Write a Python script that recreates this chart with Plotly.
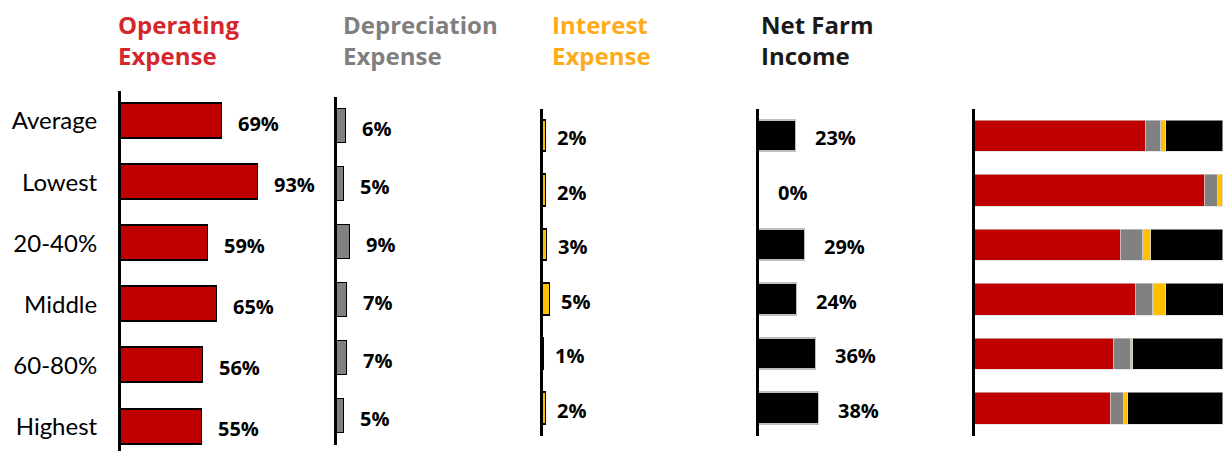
import plotly.graph_objects as go

# Share of gross farm income, by farm group
groups = ["Average", "Lowest", "20-40%", "Middle", "60-80%", "Highest"]
operating = [69, 93, 59, 65, 56, 55]
depreciation = [6, 5, 9, 7, 7, 5]
interest = [2, 2, 3, 5, 1, 2]
net_income = [23, 0, 29, 24, 36, 38]

W, H = 1223, 451

RED = "#C00000"
GREY = "#808080"
GOLD = "#FFC000"
BLACK = "#000000"


def fx(p):
    return p / W


def fy(p):
    return 1 - p / H


# Panel geometry (pixel based) and styling
panels = [
    dict(values=operating, title="Operating<br>Expense", tcolor="#D4262D", color=RED,
         outline=BLACK, x0=121, x1=330, scale=1.47, y0=90.5, y1=451, ybottom=5.4,
         bw=0.573, gap=14, tx=116),
    dict(values=depreciation, title="Depreciation<br>Expense", tcolor="#7F7F7F", color=GREY,
         outline=BLACK, x0=337, x1=535, scale=1.42, y0=97, y1=445, ybottom=5.5,
         bw=0.57, gap=14, tx=341),
    dict(values=interest, title="Interest<br>Expense", tcolor="#FFAB19", color=GOLD,
         outline=BLACK, x0=543, x1=750, scale=1.4, y0=108.5, y1=435.5, ybottom=5.5,
         bw=0.578, gap=9, tx=550),
    dict(values=net_income, title="Net Farm<br>Income", tcolor="#1A1A1A", color=BLACK,
         outline="#BFBFBF", x0=759, x1=965, scale=1.59, y0=108.5, y1=435.5, ybottom=5.5,
         bw=0.578, gap=17, tx=759),
]

fig = go.Figure()
annotations = []
layout = {}

for i, p in enumerate(panels, start=1):
    xa = "x" if i == 1 else f"x{i}"
    ya = "y" if i == 1 else f"y{i}"
    fig.add_trace(go.Bar(
        x=p["values"], y=groups, orientation="h", xaxis=xa, yaxis=ya,
        width=p["bw"], marker=dict(color=p["color"], line=dict(color=p["outline"], width=1.2)),
        showlegend=False, hoverinfo="x+y",
    ))
    layout[f"xaxis{i}" if i > 1 else "xaxis"] = dict(
        domain=[fx(p["x0"]), fx(p["x1"])],
        range=[0, (p["x1"] - p["x0"]) / p["scale"]],
        anchor=ya, visible=False, fixedrange=True,
    )
    layout[f"yaxis{i}" if i > 1 else "yaxis"] = dict(
        domain=[fy(p["y1"]), fy(p["y0"])],
        type="category", categoryorder="array", categoryarray=groups,
        range=[p["ybottom"], -0.5], anchor=xa,
        showline=True, linecolor=BLACK, linewidth=3, showgrid=False, zeroline=False,
        ticks="", showticklabels=(i == 1), ticklabelstandoff=16,
        tickfont=dict(family="Lato", size=24, color="#000000"), fixedrange=True,
    )
    for g, v in zip(groups, p["values"]):
        annotations.append(dict(
            x=v, y=g, xref=xa, yref=ya, text=f"{v}%", showarrow=False,
            xanchor="left", yanchor="middle", xshift=p["gap"], yshift=-2,
            font=dict(family="Open Sans", size=20, color="#000000", weight="bold"),
        ))
    annotations.append(dict(
        x=fx(p["tx"]), y=fy(6), xref="paper", yref="paper", text=p["title"],
        showarrow=False, xanchor="left", yanchor="top", align="left",
        font=dict(family="Open Sans", size=24, color=p["tcolor"], weight="bold"),
    ))

# Composition panel: all four shares stacked to 100%
stack_scale = 2.475
x0s, x1s = 975, 1223
for vals, col in [(operating, RED), (depreciation, GREY), (interest, GOLD), (net_income, BLACK)]:
    fig.add_trace(go.Bar(
        x=vals, y=groups, orientation="h", xaxis="x5", yaxis="y5", width=0.578,
        marker=dict(color=col, line=dict(color="#D9D9D9", width=0.6)),
        showlegend=False, hoverinfo="x+y",
    ))
layout["xaxis5"] = dict(domain=[fx(x0s), fx(x1s)], range=[0, (x1s - x0s) / stack_scale],
                        anchor="y5", visible=False, fixedrange=True)
layout["yaxis5"] = dict(domain=[fy(435.5), fy(108.5)], type="category", categoryorder="array",
                        categoryarray=groups, range=[5.5, -0.5], anchor="x5",
                        showline=True, linecolor=BLACK, linewidth=3, showgrid=False,
                        zeroline=False, ticks="", showticklabels=False, fixedrange=True)

fig.update_layout(
    width=W, height=H, margin=dict(l=0, r=0, t=0, b=0),
    paper_bgcolor="white", plot_bgcolor="white",
    barmode="stack", bargap=0, annotations=annotations, **layout,
)

fig.write_html("out.html", config={"displayModeBar": False})
